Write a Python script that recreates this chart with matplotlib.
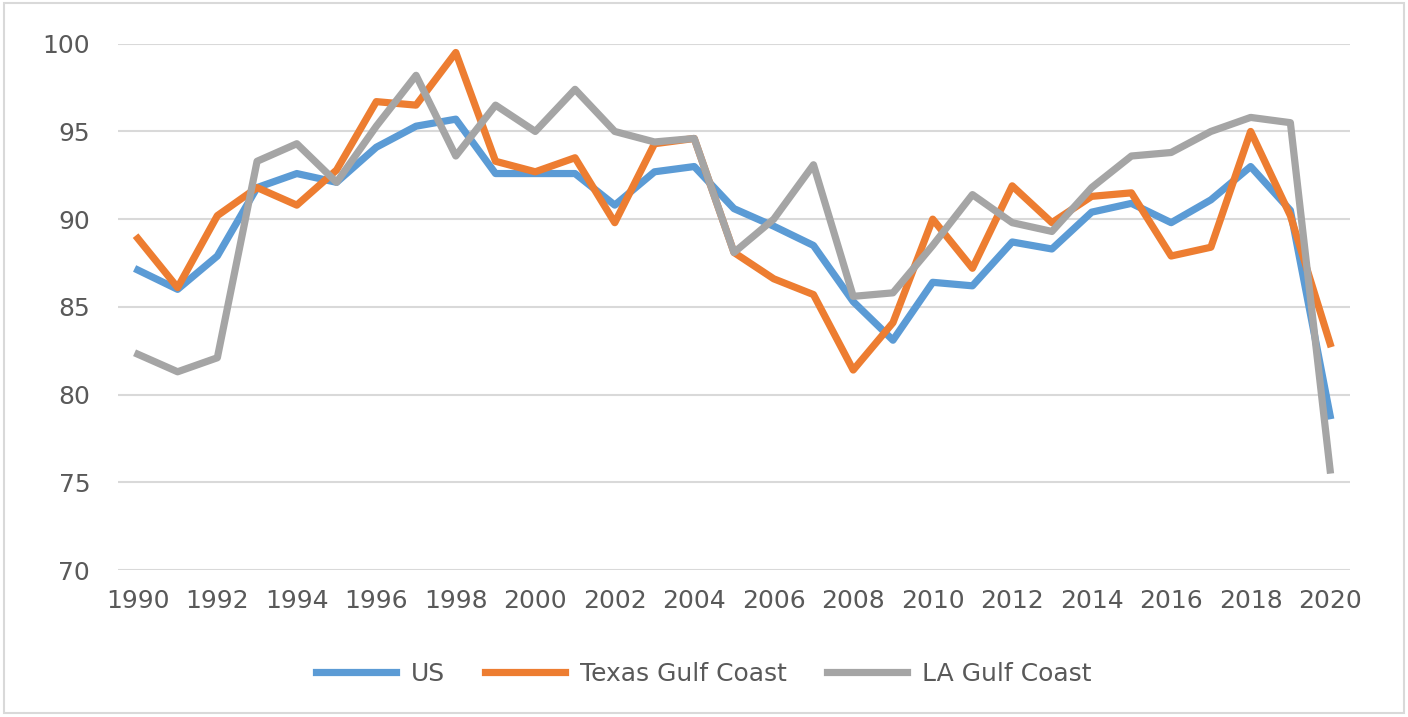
import matplotlib.pyplot as plt
from matplotlib.patches import Rectangle

# Values
years = list(range(1990, 2021))

us = [87.1, 86.0, 87.9, 91.8, 92.6, 92.1, 94.1, 95.3, 95.7, 92.6,
      92.6, 92.6, 90.8, 92.7, 93.0, 90.6, 89.6, 88.5, 85.3, 83.1,
      86.4, 86.2, 88.7, 88.3, 90.4, 90.9, 89.8, 91.1, 93.0, 90.5,
      78.8]

texas = [88.9, 86.1, 90.2, 91.8, 90.8, 92.8, 96.7, 96.5, 99.5, 93.3,
         92.7, 93.5, 89.8, 94.3, 94.6, 88.1, 86.6, 85.7, 81.4, 84.1,
         90.0, 87.2, 91.9, 89.8, 91.3, 91.5, 87.9, 88.4, 95.0, 90.2,
         82.9]

la = [82.3, 81.3, 82.1, 93.3, 94.3, 92.1, 95.3, 98.2, 93.6, 96.5,
      95.0, 97.4, 95.0, 94.4, 94.6, 88.1, 90.0, 93.1, 85.6, 85.8,
      88.5, 91.4, 89.8, 89.3, 91.8, 93.6, 93.8, 95.0, 95.8, 95.5,
      75.7]

series_names = ['US', 'Texas Gulf Coast', 'LA Gulf Coast']
y_ticks = [70, 75, 80, 85, 90, 95, 100]
x_ticks = list(range(1990, 2021, 2))

fig = plt.figure(figsize=(14.08, 7.17), dpi=100)
ax = fig.add_axes([0.0838, 0.205, 0.875, 0.734])

ax.plot(years, us, color='#5B9BD5', lw=5.2, label=series_names[0], solid_joinstyle='round')
ax.plot(years, texas, color='#ED7D31', lw=5.2, label=series_names[1], solid_joinstyle='round')
ax.plot(years, la, color='#A5A5A5', lw=5.2, label=series_names[2], solid_joinstyle='round')

ax.set_xlim(1989.5, 2020.5)
ax.set_ylim(70, 100)
ax.set_yticks(y_ticks)
ax.set_xticks(x_ticks)
ax.grid(axis='y', color='#D9D9D9', lw=1.5)
ax.set_axisbelow(True)
for s in ax.spines.values():
    s.set_visible(False)
ax.tick_params(axis='both', length=0, labelsize=18, colors='#595959')
ax.tick_params(axis='y', pad=20)
ax.tick_params(axis='x', pad=14)

fig.legend(loc='center', bbox_to_anchor=(0.5, 0.06), ncol=3, frameon=False,
           fontsize=18, handlelength=3.2, handletextpad=0.6, columnspacing=1.6,
           labelcolor='#595959')

# light border round the chart
fig.patches.append(Rectangle((0.003, 0.006), 0.994, 0.99, transform=fig.transFigure,
                             fill=False, edgecolor='#D9D9D9', lw=1.5))

fig.savefig('out.png', dpi=100)
